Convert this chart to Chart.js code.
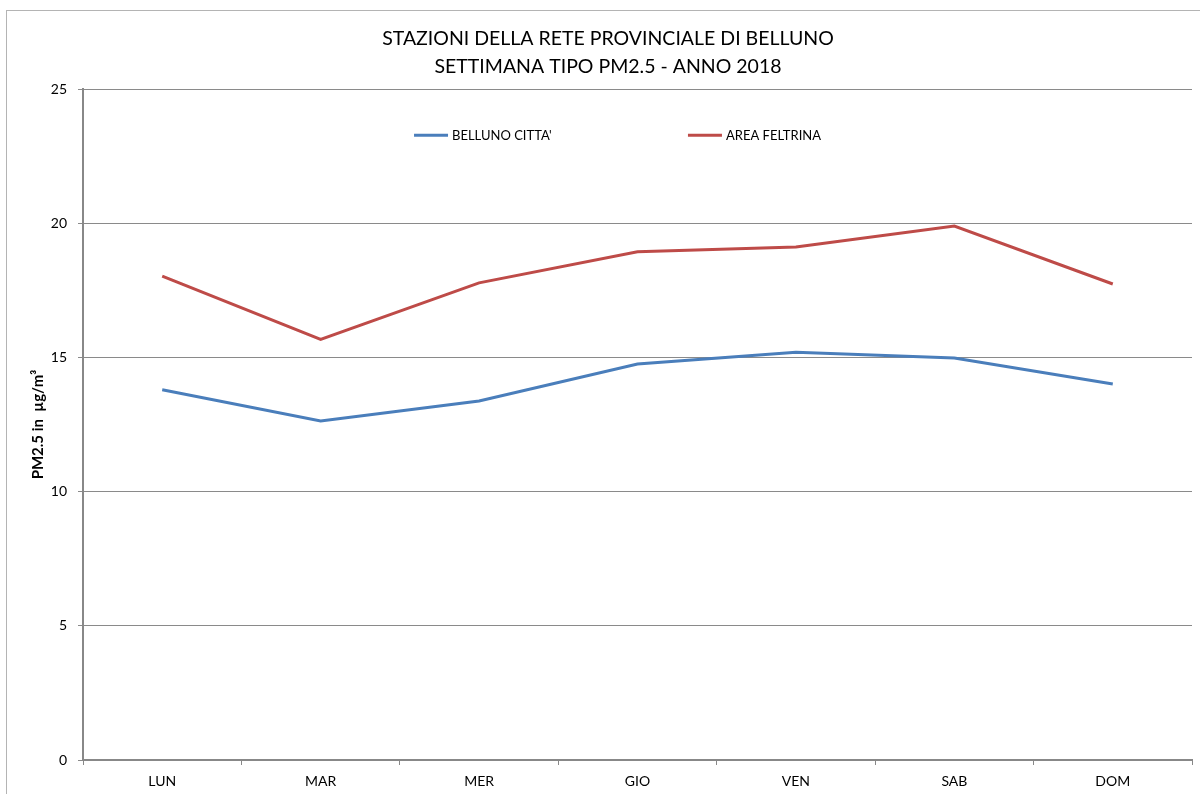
<!DOCTYPE html>
<html lang="it">
<head>
    <meta charset="UTF-8">
    <title>Settimana tipo PM2.5 - Belluno 2018</title>
    <script src="https://cdn.jsdelivr.net/npm/chart.js"></script>
    <style>
        html, body { margin: 0; padding: 0; background: #fff; overflow: hidden; }
        #frame { position: absolute; left: 6px; top: 10px; width: 1300px; height: 900px; border: 1px solid #b4b4b4; }
        #wrap { position: absolute; left: 0; top: 0; width: 1200px; height: 794px; }
    </style>
</head>
<body>
<div id="frame"></div>
<div id="wrap"><canvas id="myChart" width="1200" height="794"></canvas></div>

<script>
    const giorni = ['LUN', 'MAR', 'MER', 'GIO', 'VEN', 'SAB', 'DOM'];
    const bellunoCitta = [13.8, 12.63, 13.38, 14.76, 15.2, 14.98, 14.01];
    const areaFeltrina = [18.03, 15.67, 17.78, 18.94, 19.12, 19.9, 17.74];
    const titolo = ['STAZIONI DELLA RETE PROVINCIALE DI BELLUNO', 'SETTIMANA TIPO PM2.5 - ANNO 2018'];
    const etichettaY = 'PM2.5 in  µg/m³';

    const font = 'Lato, "Open Sans", sans-serif';

    // legenda disegnata dentro l'area del grafico, come nell'originale
    const legendaInterna = {
        id: 'legendaInterna',
        afterDraw(chart) {
            const ctx = chart.ctx;
            const area = chart.chartArea;
            const pos = [0.2985, 0.5455];
            ctx.save();
            ctx.font = '13px ' + font;
            ctx.textBaseline = 'middle';
            chart.data.datasets.forEach((ds, i) => {
                const x = area.left + (area.right - area.left) * pos[i];
                const y = area.top + 46;
                ctx.strokeStyle = ds.borderColor;
                ctx.lineWidth = 3;
                ctx.beginPath();
                ctx.moveTo(x, y);
                ctx.lineTo(x + 34, y);
                ctx.stroke();
                ctx.fillStyle = '#000';
                ctx.fillText(ds.label, x + 38, y + 1);
            });
            ctx.restore();
        }
    };

    const ctx = document.getElementById('myChart').getContext('2d');
    new Chart(ctx, {
        type: 'line',
        data: {
            labels: giorni,
            datasets: [{
                label: "BELLUNO CITTA'",
                data: bellunoCitta,
                borderColor: '#4a7ebb',
                borderWidth: 3,
                pointRadius: 0,
                tension: 0,
                fill: false
            }, {
                label: 'AREA FELTRINA',
                data: areaFeltrina,
                borderColor: '#be4b48',
                borderWidth: 3,
                pointRadius: 0,
                tension: 0,
                fill: false
            }]
        },
        options: {
            responsive: false,
            animation: false,
            layout: { padding: { left: 16, right: 0, top: 0, bottom: 0 } },
            plugins: {
                legend: { display: false },
                tooltip: { enabled: false },
                title: {
                    display: true,
                    text: titolo,
                    color: '#000',
                    font: { family: font, size: 19.5, weight: 'normal', lineHeight: 1.44 },
                    padding: { top: 25, bottom: 8 }
                }
            },
            scales: {
                x: {
                    offset: true,
                    grid: { offset: true, drawOnChartArea: false, color: '#888', tickLength: 5 },
                    border: { color: '#888', width: 2 },
                    ticks: { color: '#000', font: { family: font, size: 14 }, padding: 8 },
                    afterFit(s) { s.height = 34; }
                },
                y: {
                    min: 0,
                    max: 25,
                    ticks: { stepSize: 5, color: '#000', font: { family: font, size: 14 }, padding: 11 },
                    grid: { color: '#8a8a8a', tickLength: 5 },
                    border: { color: '#888', width: 2 },
                    title: {
                        display: true,
                        text: etichettaY,
                        color: '#000',
                        font: { family: font, size: 15, weight: 'bold' },
                        padding: { top: 13, bottom: 0 }
                    },
                    afterFit(s) { s.width = 67; }
                },
                destra: {
                    position: 'right',
                    display: true,
                    grid: { display: false },
                    border: { display: false },
                    ticks: { display: false },
                    afterFit(s) { s.width = 8; }
                }
            }
        },
        plugins: [legendaInterna]
    });
</script>
</body>
</html>
